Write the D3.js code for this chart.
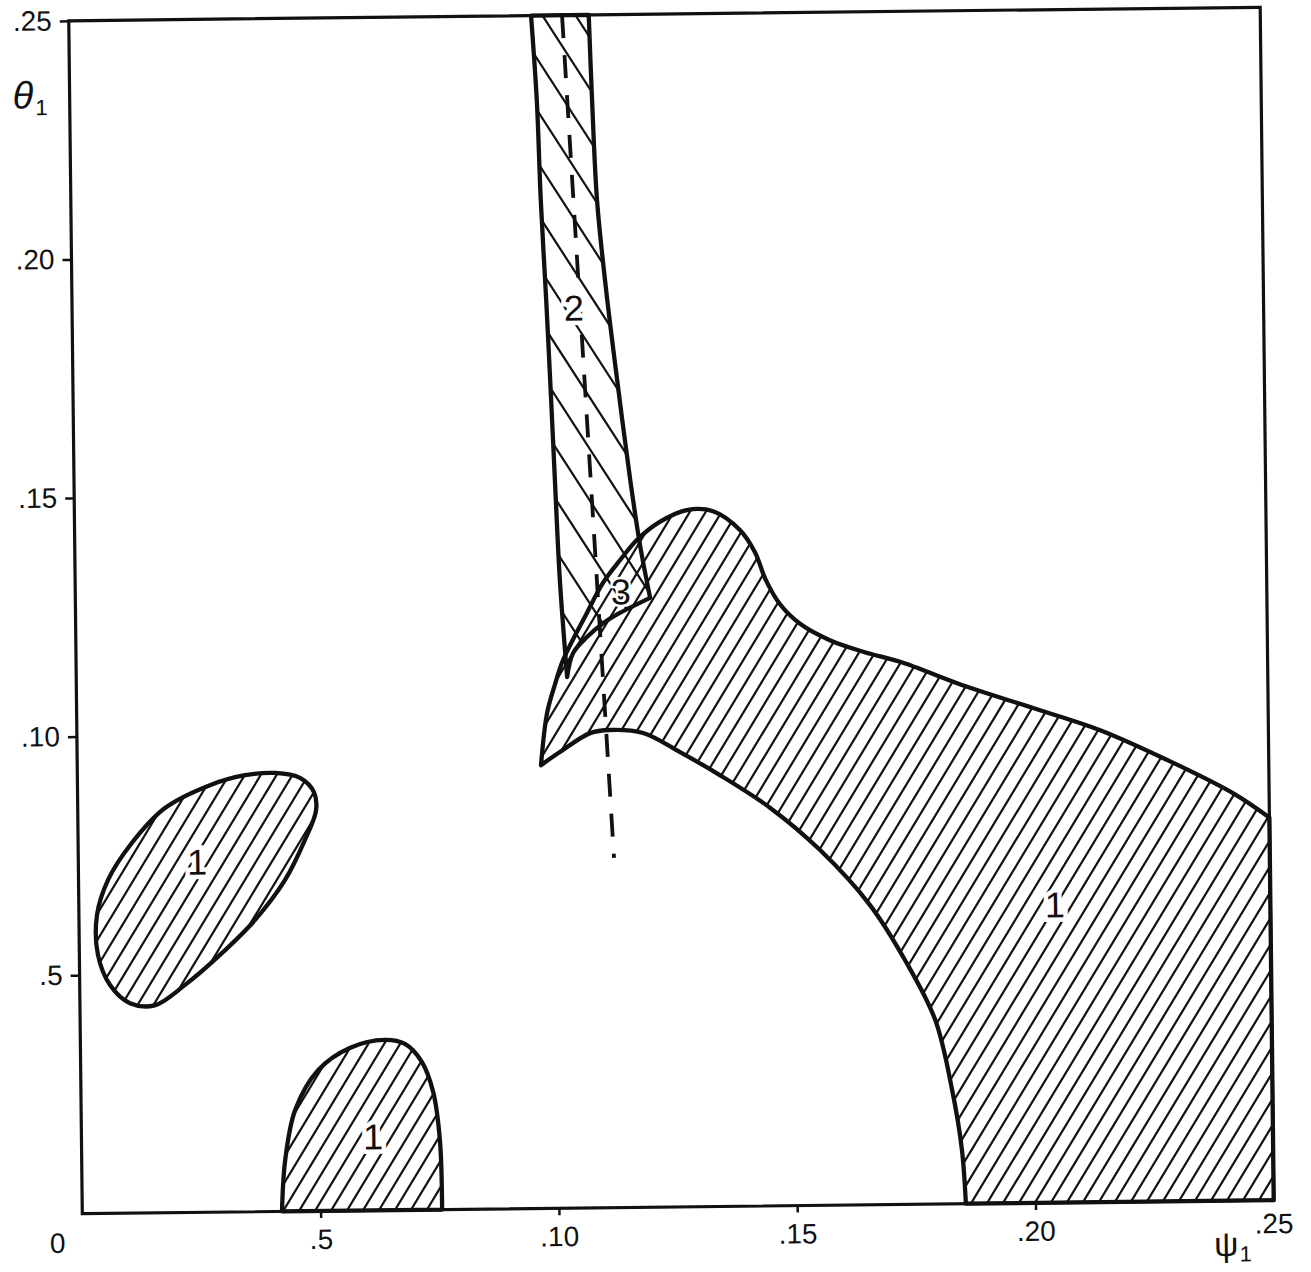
<!DOCTYPE html>
<html>
<head>
<meta charset="utf-8">
<script src="https://cdn.jsdelivr.net/npm/d3@7"></script>
<style>
  html, body { margin: 0; padding: 0; background: #fff; }
  svg { display: block; }
  text { font-family: "Liberation Sans", Arial, sans-serif; fill: #111; }
</style>
</head>
<body>
<svg id="chart" width="1311" height="1272"></svg>
<script>
// ---- axis ticks ----
const xTickValues = [0.05, 0.10, 0.15, 0.20];
const xTickLabels = [".5", ".10", ".15", ".20"];
const yTickValues = [0.05, 0.10, 0.15, 0.20, 0.25];
const yTickLabels = [".5", ".10", ".15", ".20", ".25"];
const originLabel = "0";
const xEndLabel = ".25";
const xTitle = "ψ";
const yTitle = "θ";
const titleSub = "1";

// ---- region boundaries, [psi, theta] ----
// region 1, closed island at upper left
const islandUpperLeft = [
  [0.0415, 0.0919], [0.0467, 0.0908], [0.0496, 0.0878], [0.0500, 0.0840],
  [0.0476, 0.0778], [0.0433, 0.0694], [0.0369, 0.0611], [0.0295, 0.0539],
  [0.0221, 0.0477], [0.0157, 0.0435], [0.0105, 0.0440], [0.0064, 0.0478],
  [0.0039, 0.0542], [0.0038, 0.0626], [0.0062, 0.0699], [0.0109, 0.0771],
  [0.0183, 0.0848], [0.0278, 0.0895], [0.0352, 0.0915]
];
// region 1, island resting on the psi axis
const islandLower = [
  [0.0419, 0.0], [0.0427, 0.0108], [0.0449, 0.0212], [0.0498, 0.0295],
  [0.0565, 0.0341], [0.0639, 0.0357], [0.0681, 0.0348], [0.0716, 0.0310],
  [0.0739, 0.0247], [0.0752, 0.0146], [0.0755, 0.0]
];
// region 1, large area: upper boundary from the cusp to the right edge
const mainUpper = [
  [0.0973, 0.0929], [0.0987, 0.1038], [0.1004, 0.1097], [0.1022, 0.1149],
  [0.1073, 0.1247], [0.1107, 0.1309], [0.1144, 0.1357], [0.1180, 0.1399],
  [0.1228, 0.1436], [0.1285, 0.1460], [0.1340, 0.1457], [0.1396, 0.1417],
  [0.1427, 0.1370], [0.1449, 0.1312], [0.1478, 0.1261], [0.1520, 0.1219],
  [0.1582, 0.1184], [0.1655, 0.1158], [0.1729, 0.1137], [0.1869, 0.1083],
  [0.2007, 0.1037], [0.2147, 0.0989], [0.2287, 0.0925], [0.2424, 0.0854],
  [0.2500, 0.0802]
];
// region 1, large area: lower boundary from the psi axis back to the cusp
const mainLower = [
  [0.1854, 0.0], [0.1847, 0.0113], [0.1828, 0.0238], [0.1794, 0.0386],
  [0.1732, 0.0512], [0.1660, 0.0628], [0.1556, 0.0745], [0.1453, 0.0834],
  [0.1348, 0.0904], [0.1265, 0.0953], [0.1188, 0.0994], [0.1119, 0.1001],
  [0.1077, 0.0995], [0.1013, 0.0956], [0.0973, 0.0929]
];
// region 2 strip: left edge (top to tip), bottom edge, right edge (bottom to top)
const stripLeft = [
  [0.0970, 0.25], [0.0980, 0.2323], [0.0986, 0.2113], [0.0995, 0.1904],
  [0.1003, 0.1694], [0.1009, 0.1526], [0.1017, 0.1317], [0.1030, 0.1113]
];
const stripBottom = [
  [0.1030, 0.1113], [0.1043, 0.1163], [0.1073, 0.1197], [0.1107, 0.1225],
  [0.1142, 0.1246], [0.1206, 0.1277]
];
const stripRight = [
  [0.1206, 0.1277], [0.1186, 0.1388], [0.1167, 0.1525], [0.1142, 0.1734],
  [0.1121, 0.1923], [0.1104, 0.2112], [0.1096, 0.2322], [0.1091, 0.25]
];
// dashed curve
const dashedCurve = [[0.1035, 0.25], [0.1124, 0.0733]];
// region numbers
const regionNames = ["1", "1", "1", "2", "3"];
const regionNamePsi = [0.0249, 0.0612, 0.2048, 0.1053, 0.1145];
const regionNameTheta = [0.0734, 0.0154, 0.0624, 0.1886, 0.1290];

// ---- drawing ----
const svg = d3.select("#chart");
const ink = "#111";

const x = d3.scaleLinear().domain([0, 0.25]).range([75.5, 1267]);
const y = d3.scaleLinear().domain([0, 0.25]).range([1207, 14]);

const smooth = d3.line().x(d => x(d[0])).y(d => y(d[1])).curve(d3.curveCatmullRom.alpha(0.5));
const smoothClosed = d3.line().x(d => x(d[0])).y(d => y(d[1])).curve(d3.curveCatmullRomClosed.alpha(0.5));
const cont = pts => smooth(pts).replace(/^M/, "L");

const pathIslandUL = smoothClosed(islandUpperLeft);
const pathIslandLow = smooth(islandLower) + "Z";
const pathMain = smooth(mainUpper) + `L${x(0.25)},${y(0)}` + cont(mainLower) + "Z";
const pathStrip = smooth(stripLeft) + cont(stripBottom) + cont(stripRight) + "Z";

const defs = svg.append("defs");
const clipOne = defs.append("clipPath").attr("id", "clip-one");
[pathIslandUL, pathIslandLow, pathMain].forEach(d => clipOne.append("path").attr("d", d));
defs.append("clipPath").attr("id", "clip-two").append("path").attr("d", pathStrip);

// whole sheet sits slightly turned
const g = svg.append("g").attr("transform", "rotate(-0.65, 671, 610)");

const x0 = x(0), x1 = x(0.25), yTop = y(0.25) - 6, yBot = y(0) + 6;
const H = yBot - yTop;

// rising hatch for region 1
const k1 = 0.62, step1 = 16;
const starts1 = d3.range(x0 - k1 * H - step1, x1 + step1, step1);
g.append("g").attr("clip-path", "url(#clip-one)")
  .selectAll("line").data(starts1).join("line")
  .attr("x1", c => c).attr("y1", yBot)
  .attr("x2", c => c + k1 * H).attr("y2", yTop)
  .attr("stroke", ink).attr("stroke-width", 2.2);

// falling hatch for region 2
const k2 = 0.63, step2 = 33;
const starts2 = d3.range(x0 - k2 * H - step2, x1 + step2, step2);
g.append("g").attr("clip-path", "url(#clip-two)")
  .selectAll("line").data(starts2).join("line")
  .attr("x1", c => c + 8).attr("y1", yTop)
  .attr("x2", c => c + 8 + k2 * H).attr("y2", yBot)
  .attr("stroke", ink).attr("stroke-width", 2.2);

// dashed curve
g.append("path")
  .attr("d", d3.line().x(d => x(d[0])).y(d => y(d[1]))(dashedCurve))
  .attr("fill", "none").attr("stroke", ink).attr("stroke-width", 3.8)
  .attr("stroke-dasharray", "23 17");

// region numbers with a clear margin around them
g.append("g").selectAll("text").data(regionNames).join("text")
  .attr("x", (d, i) => x(regionNamePsi[i]))
  .attr("y", (d, i) => y(regionNameTheta[i]))
  .attr("text-anchor", "middle")
  .attr("dominant-baseline", "central")
  .attr("font-size", 36)
  .attr("stroke", "#fff")
  .attr("stroke-width", (d, i) => (i === 4 ? 5 : 9))
  .attr("paint-order", "stroke")
  .text(d => d);

// outlines
g.append("g").selectAll("path")
  .data([pathIslandUL, pathIslandLow, pathMain, pathStrip]).join("path")
  .attr("d", d => d)
  .attr("fill", "none").attr("stroke", ink).attr("stroke-width", 4.3)
  .attr("stroke-linejoin", "round");

// frame
g.append("rect")
  .attr("x", x(0)).attr("y", y(0.25))
  .attr("width", x(0.25) - x(0)).attr("height", y(0) - y(0.25))
  .attr("fill", "none").attr("stroke", ink).attr("stroke-width", 3.2);

// axes
const xAxis = g.append("g").attr("transform", `translate(0,${y(0)})`)
  .call(d3.axisBottom(x).tickValues(xTickValues)
    .tickFormat((d, i) => xTickLabels[i]).tickSize(7).tickPadding(11));
const yAxis = g.append("g").attr("transform", `translate(${x(0)},0)`)
  .call(d3.axisLeft(y).tickValues(yTickValues)
    .tickFormat((d, i) => yTickLabels[i]).tickSize(9).tickPadding(8));
[xAxis, yAxis].forEach(a => {
  a.select(".domain").remove();
  a.selectAll(".tick line").attr("stroke", ink).attr("stroke-width", 2.5);
  a.selectAll(".tick text").attr("font-size", 28).attr("fill", ink)
    .attr("font-family", "\"Liberation Sans\", Arial, sans-serif");
});

g.append("text").attr("x", x(0) - 25).attr("y", y(0) + 39)
  .attr("text-anchor", "middle").attr("font-size", 28).text(originLabel);
g.append("text").attr("x", x(0.25)).attr("y", y(0) + 33)
  .attr("text-anchor", "middle").attr("font-size", 28).text(xEndLabel);

// axis titles
const yT = g.append("text").attr("x", x(0) - 57).attr("y", y(0.25) + 87)
  .attr("font-size", 38);
yT.append("tspan").attr("font-style", "italic").text(yTitle);
yT.append("tspan").attr("font-size", 22).attr("dx", 2).attr("dy", 7).text(titleSub);

const xT = g.append("text").attr("x", x(0.25) - 60).attr("y", y(0) + 55)
  .attr("font-size", 34);
xT.append("tspan").text(xTitle);
xT.append("tspan").attr("font-size", 22).attr("dx", 1).attr("dy", 6).text(titleSub);
</script>
</body>
</html>
